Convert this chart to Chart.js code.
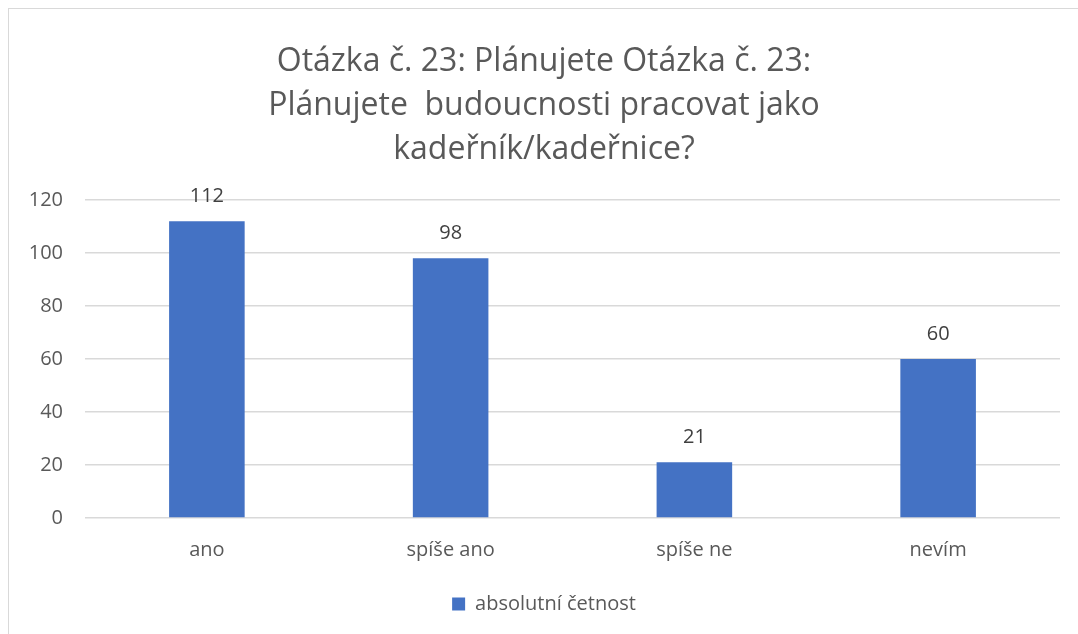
<!DOCTYPE html>
<html>
<head>
<meta charset="utf-8">
<script src="https://cdn.jsdelivr.net/npm/chart.js"></script>
<style>
  html, body { margin: 0; padding: 0; background: #fff; }
  #frame {
    position: absolute; left: 8px; top: 8px;
    width: 1080px; height: 640px;
    border: 1.5px solid #d9d9d9;
    box-sizing: border-box;
  }
  #wrap { position: absolute; left: 9px; top: 9px; width: 1069px; height: 625px; }
</style>
</head>
<body>
<div id="frame"></div>
<div id="wrap"><canvas id="myChart" width="1069" height="625"></canvas></div>
<script>
// chart data
const categories = ["ano", "spíše ano", "spíše ne", "nevím"];
const counts = [112, 98, 21, 60];
const seriesName = "absolutní četnost";
const titleLines = [
  "Otázka č. 23: Plánujete Otázka č. 23:",
  "Plánujete  budoucnosti pracovat jako",
  "kadeřník/kadeřnice?"
];
const yTicks = { min: 0, max: 120, step: 20 };

const FONT = "'Open Sans', 'Noto Sans', sans-serif";
const GREY = "#595959";

// values above the bars
const barLabels = {
  id: "barLabels",
  afterDatasetsDraw(chart) {
    const ctx = chart.ctx;
    const meta = chart.getDatasetMeta(0);
    ctx.save();
    ctx.font = "20px " + FONT;
    ctx.fillStyle = "#404040";
    ctx.textAlign = "center";
    ctx.textBaseline = "middle";
    meta.data.forEach(function (bar, i) {
      ctx.fillText(String(counts[i]), bar.x, bar.y - 25);
    });
    ctx.restore();
  }
};

const config = {
  type: "bar",
  data: {
    labels: categories,
    datasets: [{
      label: seriesName,
      data: counts,
      backgroundColor: "#4472c4",
      borderWidth: 0,
      barPercentage: 0.31,
      categoryPercentage: 1
    }]
  },
  options: {
    responsive: false,
    animation: false,
    layout: { padding: { left: 19, right: 18, top: 0, bottom: 10 } },
    plugins: {
      title: {
        display: true,
        text: titleLines,
        color: GREY,
        font: { family: FONT, size: 32, weight: "normal", lineHeight: 1.375 },
        padding: { top: 31, bottom: 28 }
      },
      legend: {
        position: "bottom",
        labels: {
          color: GREY,
          font: { family: FONT, size: 20 },
          boxWidth: 13,
          boxHeight: 13,
          padding: 20
        }
      },
      tooltip: { enabled: false }
    },
    scales: {
      x: {
        grid: { display: false },
        border: { display: false },
        ticks: { color: GREY, font: { family: FONT, size: 20 }, padding: 12 }
      },
      y: {
        min: yTicks.min,
        max: yTicks.max,
        afterFit: function (scale) { scale.width = 57; },
        grid: { color: "#d9d9d9", lineWidth: 1.5, drawTicks: false },
        border: { display: false },
        ticks: {
          stepSize: yTicks.step,
          color: GREY,
          font: { family: FONT, size: 20 },
          padding: 22
        }
      }
    }
  },
  plugins: [barLabels]
};

new Chart(document.getElementById("myChart"), config);
</script>
</body>
</html>
